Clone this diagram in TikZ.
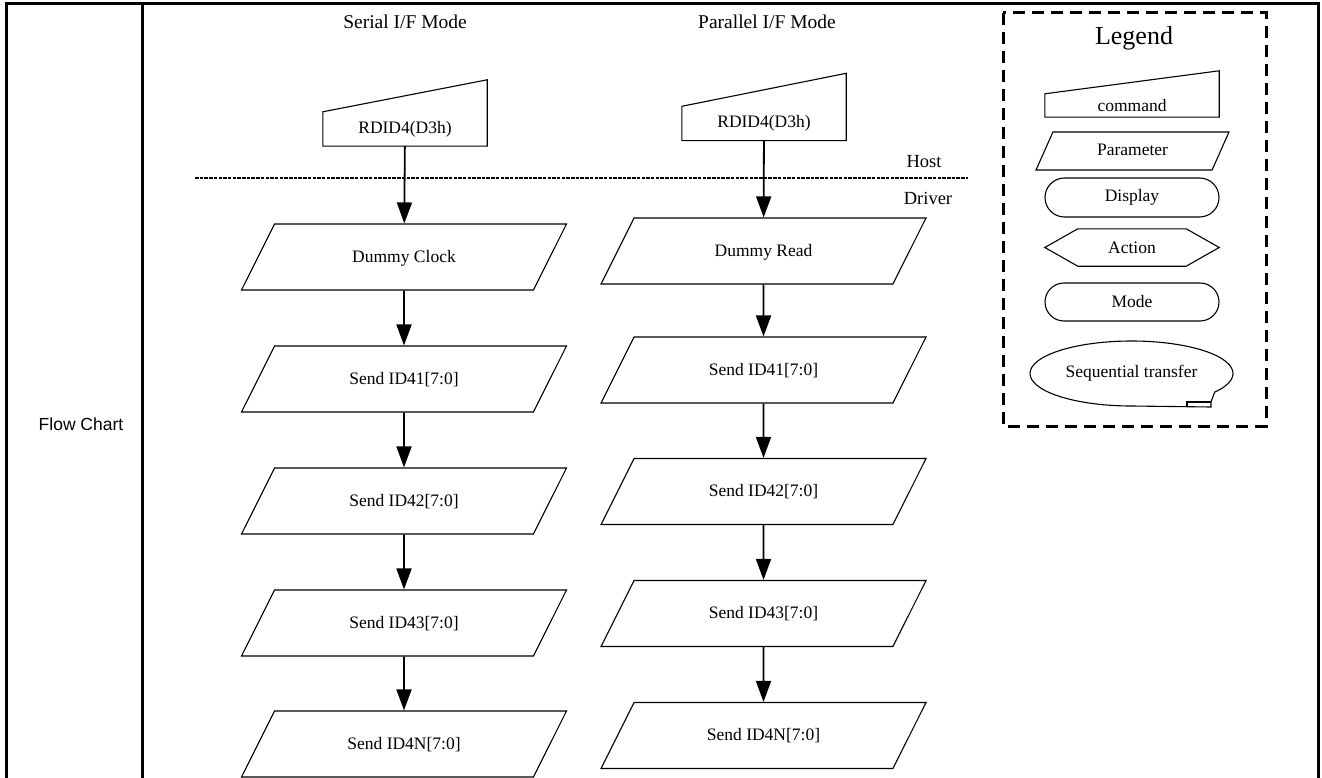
\documentclass[tikz,border=0pt]{standalone}
\usepackage{fontspec}
\setmainfont{Liberation Serif}
\newfontfamily\arialfont{Liberation Sans}
\usetikzlibrary{positioning,arrows.meta,shapes.geometric,shapes.misc}

\tikzset{
  boxfont/.style={font=\fontsize{17.5}{20}\selectfont},
  outline/.style={line width=1.1pt},
  param/.style={trapezium,trapezium left angle=63.4,trapezium right angle=116.6,
    trapezium stretches body=true,draw,outline,minimum width=325pt,
    text height=13pt,text depth=3pt,inner xsep=0pt,inner ysep=25pt,boxfont},
  cmd/.style={minimum width=164pt,minimum height=34pt,inner sep=0pt,boxfont},
  flow/.style={-{Triangle[length=21pt,width=15pt]},line width=1.8pt},
  frame/.style={line width=3pt},
  hostline/.style={line width=2.4pt,dash pattern=on 3.5pt off 1.2pt},
  legendbox/.style={line width=3pt,dash pattern=on 12pt off 7pt},
  pill/.style={rounded rectangle,draw,outline,minimum width=174pt,minimum height=39pt,
    inner sep=0pt,boxfont}
}

\begin{document}
\begin{tikzpicture}[x=1pt,y=-1pt]
  \useasboundingbox (0,0) rectangle (1322,778);

  % table frame
  \draw[frame] (6,782) -- (6,4) -- (1318,4) -- (1318,782);
  \draw[frame] (142,4) -- (142,782);
  \node[font=\arialfont\fontsize{17.5}{20}\selectfont] (fc) at (81,424) {Flow Chart};

  % column headers
  \node[font=\fontsize{19.5}{22}\selectfont] (hs) at (405,22) {Serial I/F Mode};
  \node[font=\fontsize{19.5}{22}\selectfont] (hp) at (767,22) {Parallel I/F Mode};

  % commands
  \node[cmd] (cs) at (405,129) {RDID4(D3h)};
  \node[cmd] (cp) at (764,123.5) {RDID4(D3h)};

  % host / driver
  \draw[hostline] (195,178) -- (968,178);
  \node[font=\fontsize{18.5}{20}\selectfont] (host) at (924,162) {Host};
  \node[font=\fontsize{18.5}{20}\selectfont] (drv) at (928,198) {Driver};

  % serial I/F column
  \foreach \i/\y/\lab in {0/257/{Dummy Clock},1/379/{Send ID41[7:0]},2/501/{Send ID42[7:0]},
      3/623/{Send ID43[7:0]},4/744/{Send ID4N[7:0]}}{
    \node[param] (s\i) at (404,\y) {\lab};
  }
  % parallel I/F column
  \foreach \i/\y/\lab in {0/251/{Dummy Read},1/370/{Send ID41[7:0]},2/491.5/{Send ID42[7:0]},
      3/613.5/{Send ID43[7:0]},4/735.5/{Send ID4N[7:0]}}{
    \node[param] (p\i) at (763.5,\y) {\lab};
  }

  \draw[flow] (cs) -- (s0);
  \draw[flow] (cp) -- (p0);
  \foreach \i/\j in {0/1,1/2,2/3,3/4}{
    \draw[flow] (s\i) -- (s\j);
    \draw[flow] (p\i) -- (p\j);
  }

  % legend
  \draw[legendbox] (1003,13) rectangle (1266,426);
  \node[font=\fontsize{26}{30}\selectfont] (lt) at (1134,38) {Legend};
  \node[cmd,minimum width=174pt,minimum height=23pt] (lcmd) at (1132,105.5) {command};
  \node[param,trapezium left angle=66,trapezium right angle=114,
    minimum width=193pt,inner ysep=11pt] (lpar) at (1132.5,151) {Parameter};
  \node[pill] (ldisp) at (1132,197.5) {Display};
  \node[minimum width=174pt,minimum height=37pt,inner sep=0pt,boxfont] (lact) at (1132,247.5) {Action};
  \node[pill,minimum height=38pt] (lmode) at (1132,302) {Mode};
  \node[minimum width=203pt,minimum height=65pt,inner sep=0pt,boxfont] (lseq) at (1131.5,373.5) {Sequential transfer};

  % command outlines (sloped top)
  \foreach \c/\s in {cs/32,cp/33,lcmd/23}{
    \draw[outline] (\c.south west) -- (\c.north west) -- ([yshift=\s pt]\c.north east)
      -- (\c.south east) -- cycle;
  }
  % action hexagon
  \draw[outline] (lact.west) -- ([xshift=33pt]lact.north west) -- ([xshift=-33pt]lact.north east)
    -- (lact.east) -- ([xshift=-33pt]lact.south east) -- ([xshift=33pt]lact.south west) -- cycle;
  % sequential transfer
  \draw[outline] ([shift={(-35:101.5pt and 32.5pt)}]lseq.center)
    arc[start angle=-35,end angle=270,x radius=101.5pt,y radius=32.5pt]
    -- (1211,407) -- (1211,402) -- cycle;
  \draw[outline] (1187,407) -- (1187,402) -- (1211,402);
\end{tikzpicture}
\end{document}
